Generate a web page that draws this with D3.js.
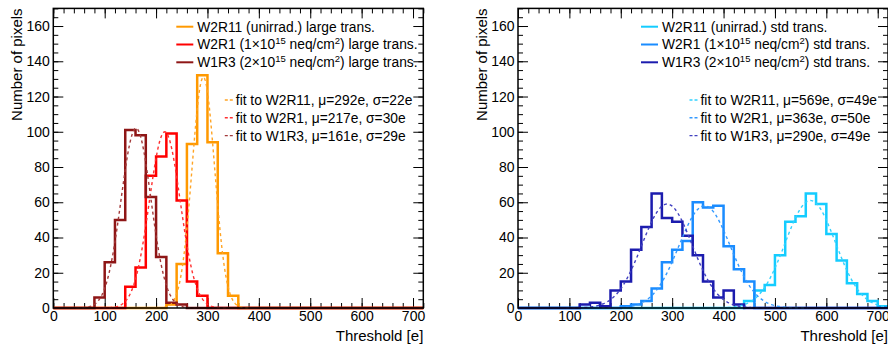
<!DOCTYPE html>
<html>
<head>
<meta charset="utf-8">
<script src="https://cdn.jsdelivr.net/npm/d3@7"></script>
<style>
body { margin: 0; background: #fff; }
svg { display: block; font-family: "Liberation Sans", Arial, Helvetica, sans-serif; }
</style>
</head>
<body>
<svg id="chart" width="888" height="349"></svg>
<script>
// threshold histograms, 20e bins from 0 to 720
var binEdges = d3.range(0, 740, 20);
var xTicks = [0, 100, 200, 300, 400, 500, 600, 700];
var yTicks = [0, 20, 40, 60, 80, 100, 120, 140, 160];

// large transistor (left pad)
var largeW2R11 = [0,0,0,0,0,0,0,0,0,0,0,2,25,93,132,94,31,7,0,0,0,0,0,0,0,0,0,0,0,0,0,0,0,0,0,0];
var largeW2R1  = [0,0,0,0,0,0,0,12,23,75,86,99,61,15,7,0,0,0,0,0,0,0,0,0,0,0,0,0,0,0,0,0,0,0,0,0];
var largeW1R3  = [0,0,0,0,6,26,50,101,98,63,29,3,2,0,0,0,0,0,0,0,0,0,0,0,0,0,0,0,0,0,0,0,0,0,0,0];
// std transistor (right pad)
var stdW2R11 = [0,0,0,0,0,0,0,0,0,0,0,0,0,0,0,0,0,0,0,0,0,0,4,10,13,30,49,52,65,59,42,27,14,8,4,1];
var stdW2R1  = [0,0,0,0,0,0,0,0,0,0,1,2,4,11,26,33,38,60,57,58,35,22,15,0,0,0,0,0,0,0,0,0,0,0,0,0];
var stdW1R3  = [0,0,0,0,0,0,2,3,1,10,15,33,46,65,51,49,41,30,15,6,10,2,0,0,0,0,0,0,0,0,0,0,0,0,0,0];

// gaussian fit results
var largeFitMu = [292, 217, 161];
var largeFitSigma = [22, 30, 29];
var largeFitPeak = [131, 100, 102];
var stdFitMu = [569, 363, 290];
var stdFitSigma = [49, 50, 49];
var stdFitPeak = [61, 58, 59];

var largeLabels = ["W2R11 (unirrad.) large trans.",
                   "W2R1 (1×10^{15} neq/cm^{2}) large trans.",
                   "W1R3 (2×10^{15} neq/cm^{2}) large trans."];
var stdLabels = ["W2R11 (unirrad.) std trans.",
                 "W2R1 (1×10^{15} neq/cm^{2}) std trans.",
                 "W1R3 (2×10^{15} neq/cm^{2}) std trans."];
var fitNames = ["W2R11", "W2R1", "W1R3"];

var largeColors = ["#ff9900", "#ff0000", "#8e1616"];
var largeFitColors = ["#ffa424", "#ff3030", "#a33a3a"];
var stdColors = ["#14ccff", "#1a8cff", "#1c1cae"];
var stdFitColors = ["#33d2ff", "#3399ff", "#4040c0"];

var chart = {
	top: 8.4,
	bottom: 308,
	width: 370,
	init: function() {
		var svg = d3.select("#chart");
		chart.draw_panel(svg, 53.3, [largeW2R11, largeW2R1, largeW1R3], largeColors, largeFitColors,
			largeLabels, largeFitMu, largeFitSigma, largeFitPeak);
		chart.draw_panel(svg, 518, [stdW2R11, stdW2R1, stdW1R3], stdColors, stdFitColors,
			stdLabels, stdFitMu, stdFitSigma, stdFitPeak);
	},
	draw_panel: function(svg, left, hists, colors, fitColors, labels, mus, sigmas, peaks) {
		var h = chart.bottom - chart.top;
		var g = svg.append("g").attr("transform", "translate(" + left + "," + chart.top + ")");
		var x = d3.scaleLinear().domain([0, 720]).range([0, chart.width]);
		var y = d3.scaleLinear().domain([0, 170]).range([h, 0]);

		// ticks on all four sides, pointing in
		g.append("g").attr("transform", "translate(0," + h + ")")
			.call(d3.axisBottom(x).tickValues(d3.range(0, 721, 20)).tickSize(-5).tickFormat(""));
		g.append("g").attr("transform", "translate(0," + h + ")").attr("class", "xlab")
			.call(d3.axisBottom(x).tickValues(xTicks).tickSize(-10).tickPadding(3));
		g.append("g").call(d3.axisTop(x).tickValues(d3.range(0, 721, 20)).tickSize(-5).tickFormat(""));
		g.append("g").call(d3.axisTop(x).tickValues(xTicks).tickSize(-10).tickFormat(""));
		g.append("g").call(d3.axisLeft(y).tickValues(d3.range(0, 171, 5)).tickSize(-5).tickFormat(""));
		g.append("g").attr("class", "ylab")
			.call(d3.axisLeft(y).tickValues(yTicks).tickSize(-10).tickPadding(3.5));
		g.append("g").attr("transform", "translate(" + chart.width + ",0)")
			.call(d3.axisRight(y).tickValues(d3.range(0, 171, 5)).tickSize(-5).tickFormat(""));
		g.append("g").attr("transform", "translate(" + chart.width + ",0)")
			.call(d3.axisRight(y).tickValues(yTicks).tickSize(-10).tickFormat(""));
		g.selectAll(".domain").remove();
		g.selectAll(".tick line").attr("stroke", "#000").attr("stroke-width", 1);
		g.selectAll(".tick text").attr("font-size", 14).attr("fill", "#000")
			.attr("font-family", "Liberation Sans, Arial, sans-serif");

		// histograms
		var step = d3.line().curve(d3.curveStepAfter)
			.x(function(d) { return x(d[0]); })
			.y(function(d) { return y(d[1]); });
		hists.forEach(function(counts, i) {
			var pts = binEdges.map(function(e, k) { return [e, counts[Math.min(k, counts.length - 1)]]; });
			g.append("path").attr("d", step(pts))
				.attr("fill", "none").attr("stroke", colors[i]).attr("stroke-width", 2.5);
		});

		// fitted gaussians
		var curve = d3.line()
			.x(function(d) { return x(d[0]); })
			.y(function(d) { return y(d[1]); });
		mus.forEach(function(mu, i) {
			var s = sigmas[i];
			var pts = d3.range(mu - 4 * s, mu + 4 * s + 1, 2).map(function(v) {
				return [v, peaks[i] * Math.exp(-0.5 * Math.pow((v - mu) / s, 2))];
			});
			g.append("path").attr("d", curve(pts))
				.attr("fill", "none").attr("stroke", fitColors[i])
				.attr("stroke-width", 1.4).attr("stroke-dasharray", "3,3");
		});

		// frame
		g.append("rect").attr("width", chart.width).attr("height", h)
			.attr("fill", "none").attr("stroke", "#000").attr("stroke-width", 1.5);

		// axis titles
		g.append("text").attr("x", chart.width).attr("y", 341 - chart.top)
			.attr("text-anchor", "end").attr("font-size", 15).text("Threshold [e]");
		g.append("text").attr("transform", "translate(-31.3,0) rotate(-90)")
			.attr("text-anchor", "end").attr("font-size", 15).text("Number of pixels");

		// legends
		labels.forEach(function(lab, i) {
			var ly = 26.7 + i * 17.8 - chart.top;
			g.append("line").attr("x1", 123).attr("x2", 140).attr("y1", ly).attr("y2", ly)
				.attr("stroke", colors[i]).attr("stroke-width", 2);
			chart.rich_text(g.append("text").attr("x", 144).attr("y", ly + 5).attr("font-size", 13.8), lab);
		});
		mus.forEach(function(mu, i) {
			var ly = 100 + i * 17.8 - chart.top;
			g.append("line").attr("x1", 171.5).attr("x2", 179.5).attr("y1", ly).attr("y2", ly)
				.attr("stroke", fitColors[i]).attr("stroke-width", 1.4).attr("stroke-dasharray", "3,2");
			g.append("text").attr("x", 182.5).attr("y", ly + 5).attr("font-size", 13.8)
				.text("fit to " + fitNames[i] + ", μ=" + mu + "e, σ=" + sigmas[i] + "e");
		});
	},
	// "^{..}" -> superscript tspans
	rich_text: function(t, str) {
		var parts = str.split(/\^\{(.*?)\}/);
		parts.forEach(function(p, k) {
			if (k % 2 == 0) {
				t.append("tspan").text(p).attr("dy", k > 0 ? 5 : null);
			} else {
				t.append("tspan").text(p).attr("font-size", 9.5).attr("dy", -5);
			}
		});
	}
};

chart.init();
</script>
</body>
</html>
